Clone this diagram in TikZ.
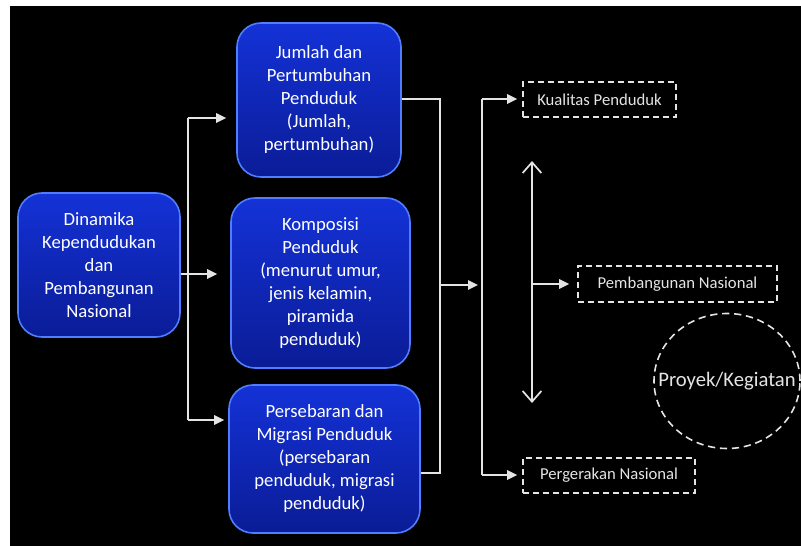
\documentclass[tikz,border=0pt]{standalone}
\usepackage{fontspec}
\setmainfont{Carlito}
\usetikzlibrary{arrows.meta,shapes.geometric,calc}
\definecolor{lineg}{RGB}{228,228,228}
\definecolor{btop}{RGB}{20,50,215}
\definecolor{bmid}{RGB}{22,92,255}
\definecolor{bbot}{RGB}{10,28,150}
\definecolor{bborder}{RGB}{80,125,255}
\tikzset{
  bluebox/.style={rectangle, rounded corners=18pt, draw=bborder, line width=1.2pt,
    top color=btop, middle color=bmid, bottom color=bbot, text=white, align=center,
    font=\fontsize{14}{17.25}\selectfont, inner sep=0pt},
  dashbox/.style={rectangle, draw=lineg, dash pattern=on 4.5pt off 3pt, line width=1.2pt,
    text=lineg, font=\fontsize{12.5}{14}\selectfont, inner sep=0pt},
  conn/.style={draw=lineg, line width=1.3pt},
  arr/.style={conn, -{Triangle[length=7.5pt,width=7pt]}},
  barb/.style={conn, {Straight Barb[length=8pt,width=14pt]}-{Straight Barb[length=8pt,width=14pt]}},
}
\begin{document}
\begin{tikzpicture}[x=0.75pt,y=-0.75pt]
\useasboundingbox (0,0) rectangle (801,546);
\fill[white] (0,0) rectangle (801,546);
\fill[black] (10,6) rectangle (801,546);

% blue boxes
\node[bluebox, minimum width=121.5pt, minimum height=108pt] (A) at (99,265)
  {Dinamika\\Kependudukan\\dan\\Pembangunan\\Nasional};
\node[bluebox, minimum width=123pt, minimum height=115.5pt] (B) at (319,100)
  {Jumlah dan\\Pertumbuhan\\Penduduk\\(Jumlah,\\pertumbuhan)};
\node[bluebox, minimum width=134.25pt, minimum height=127.5pt] (C) at (320.5,283)
  {Komposisi\\Penduduk\\(menurut umur,\\jenis kelamin,\\piramida\\penduduk)};
\node[bluebox, minimum width=143.25pt, minimum height=111pt] (D) at (324.5,459)
  {Persebaran dan\\Migrasi Penduduk\\(persebaran\\penduduk, migrasi\\penduduk)};

% dashed outputs
\node[dashbox, minimum width=114.75pt, minimum height=26.25pt] (K) at (599.5,99.5) {Kualitas Penduduk};
\node[dashbox, minimum width=149.25pt, minimum height=27pt] (PN) at (677.5,284) {Pembangunan Nasional};
\node[dashbox, minimum width=129pt, minimum height=26.25pt] (PG) at (609,475.5) {Pergerakan Nasional};
\node[ellipse, draw=lineg, dash pattern=on 5.5pt off 3.5pt, line width=1.2pt,
  inner sep=0pt, minimum width=109.5pt, minimum height=101.25pt] (PK) at (727,381) {};
\node[text=lineg, font=\fontsize{15.5}{17}\selectfont, inner sep=0pt] (PKt) at (PK.center) {Proyek/Kegiatan};

% left distribution
\coordinate (lt) at (188,118);
\coordinate (lm) at (188,274);
\coordinate (lb) at (188,420);
\draw[conn] (lt) -- (lb);
\draw[arr, shorten >=9.75pt] (A.east |- lm) -- (lm -| C.west);
\draw[arr, shorten >=7.5pt] (lt) -- (lt -| B.west);
\draw[arr, shorten >=3pt] (lb) -- (lb -| D.west);

% right collection
\coordinate (r1) at (440,99);
\coordinate (r2) at (440,473);
\coordinate (rm) at (440,285);
\draw[conn] (B.east |- r1) -- (r1) -- (r2) -- (D.east |- r2);
\coordinate (s1) at (482,99);
\coordinate (s2) at (482,475);
\draw[arr, shorten >=3pt] (rm) -- (rm -| s1);
\draw[conn] (s1) -- (s2);
\draw[arr, shorten >=3.75pt] (s1) -- (s1 -| K.west);
\draw[arr, shorten >=3.75pt] (s2) -- (s2 -| PG.west);

% vertical double arrow and branch
\coordinate (vt) at (532,161);
\coordinate (vb) at (532,403);
\coordinate (vm) at (532,284);
\draw[barb] (vt) -- (vb);
\draw[arr, shorten >=6pt] (vm) -- (vm -| PN.west);
\end{tikzpicture}
\end{document}
